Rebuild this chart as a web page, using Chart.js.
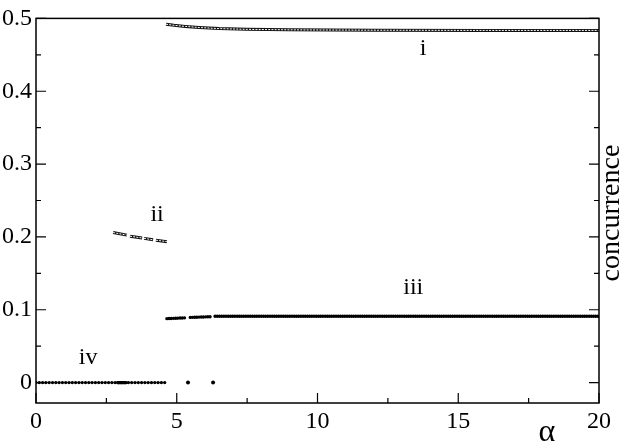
<!DOCTYPE html>
<html>
<head>
<meta charset="utf-8">
<script src="https://cdn.jsdelivr.net/npm/chart.js@4.4.1/dist/chart.umd.min.js"></script>
<style>
  body { margin: 0; background: #fff; }
  #wrap { width: 621px; height: 442px; }
</style>
</head>
<body>
<div id="wrap"><canvas id="chart" width="621" height="442"></canvas></div>
<script>
// branch i (upper, hollow dots)
const branchI_x = [4.62, 4.9, 5.3, 5.8, 6.5, 7.5, 9, 12, 16, 20];
const branchI_y = [0.492, 0.4905, 0.489, 0.4875, 0.486, 0.485, 0.4843, 0.4838, 0.4835, 0.4835];

// branch ii (four short pieces with gaps)
const branchIIa_x = [2.74, 3.23];  const branchIIa_y = [0.206, 0.2025];
const branchIIb_x = [3.34, 3.77];  const branchIIb_y = [0.201, 0.1985];
const branchIIc_x = [3.84, 4.16];  const branchIIc_y = [0.198, 0.196];
const branchIId_x = [4.26, 4.65];  const branchIId_y = [0.1955, 0.1935];

// branch iii
const branchIIIa_x = [4.65, 5.33];  const branchIIIa_y = [0.0878, 0.089];
const branchIIIb_x = [5.48, 6.22];  const branchIIIb_y = [0.0895, 0.0905];
const branchIIIc_x = [6.36, 20];    const branchIIIc_y = [0.091, 0.091];

// branch iv (zero)
const branchIV_x = [0, 4.62];       const branchIV_y = [0, 0];
const branchIVdense_x = [2.9, 3.2]; const branchIVdense_y = [0, 0];
const strayIV_x = [5.4, 6.29];      const strayIV_y = [0, 0];

// axes
const xMajor = [0, 5, 10, 15, 20];
const xMinor = [2.5, 7.5, 12.5, 17.5];
const yMajor = [0, 0.1, 0.2, 0.3, 0.4, 0.5];
const yMinor = [0.05, 0.15, 0.25, 0.35, 0.45];

// branch labels
const labelText = ['i', 'ii', 'iii', 'iv'];
const labelX = [13.75, 4.3, 13.4, 1.85];
const labelY = [0.458, 0.231, 0.130, 0.034];

const SERIF = '"Liberation Serif", "Times New Roman", Times, serif';

function pts(xs, ys) {
  return xs.map((x, i) => ({ x: x, y: ys[i] }));
}

function hollow(xs, ys) {
  return [
    { data: pts(xs, ys), borderColor: '#fff', borderWidth: 1, borderDash: [2, 1.2],
      pointRadius: 0, order: 0 },
    { data: pts(xs, ys), borderColor: '#111', borderWidth: 3, pointRadius: 0, order: 1 }
  ];
}

function dotted(xs, ys, gap) {
  return {
    data: pts(xs, ys), borderColor: '#000', borderWidth: 3.4, pointRadius: 0,
    borderDash: [0, gap], borderCapStyle: 'round', order: 1
  };
}

const datasets = [].concat(
  hollow(branchI_x, branchI_y),
  hollow(branchIIa_x, branchIIa_y),
  hollow(branchIIb_x, branchIIb_y),
  hollow(branchIIc_x, branchIIc_y),
  hollow(branchIId_x, branchIId_y),
  [dotted(branchIIIa_x, branchIIIa_y, 2.2),
   dotted(branchIIIb_x, branchIIIb_y, 2.2),
   dotted(branchIIIc_x, branchIIIc_y, 2.2),
   dotted(branchIV_x, branchIV_y, 3.3),
   dotted(branchIVdense_x, branchIVdense_y, 1.2),
   { data: pts(strayIV_x, strayIV_y), showLine: false, pointRadius: 2, pointBackgroundColor: '#000',
     pointBorderWidth: 0, order: 1 }]
);

const frame = {
  id: 'frame',
  afterDraw(chart) {
    const ctx = chart.ctx;
    const a = chart.chartArea;
    const xs = chart.scales.x, ys = chart.scales.y;
    ctx.save();
    ctx.strokeStyle = '#000';
    ctx.lineWidth = 1.5;
    ctx.strokeRect(a.left, a.top, a.right - a.left, a.bottom - a.top);
    ctx.lineWidth = 1.2;
    ctx.beginPath();
    const tx = (v, len) => {
      const p = xs.getPixelForValue(v);
      ctx.moveTo(p, a.bottom); ctx.lineTo(p, a.bottom - len);
    };
    const ty = (v, len) => {
      const p = ys.getPixelForValue(v);
      ctx.moveTo(a.left, p); ctx.lineTo(a.left + len, p);
      ctx.moveTo(a.right, p); ctx.lineTo(a.right - len, p);
    };
    xMajor.forEach(v => tx(v, 10));
    xMinor.forEach(v => tx(v, 5));
    yMajor.forEach(v => ty(v, 10));
    yMinor.forEach(v => ty(v, 5));
    ctx.stroke();

    ctx.fillStyle = '#000';
    ctx.font = '24px ' + SERIF;
    ctx.textAlign = 'center';
    ctx.textBaseline = 'middle';
    labelText.forEach((t, i) => {
      ctx.fillText(t, xs.getPixelForValue(labelX[i]), ys.getPixelForValue(labelY[i]));
    });

    ctx.font = '32px ' + SERIF;
    ctx.textBaseline = 'alphabetic';
    ctx.fillText('\u03b1', 547, 441);

    ctx.font = '28px ' + SERIF;
    ctx.translate(612, 213);
    ctx.rotate(-Math.PI / 2);
    ctx.textBaseline = 'middle';
    ctx.fillText('concurrence', 0, 0);
    ctx.restore();
  }
};

function draw() {
  new Chart(document.getElementById('chart'), {
    type: 'line',
    data: { datasets: datasets },
    plugins: [frame],
    options: {
      responsive: false,
      animation: false,
      layout: { padding: { top: 10, right: 22, left: 0, bottom: 0 } },
      plugins: { legend: { display: false }, tooltip: { enabled: false } },
      scales: {
        x: {
          type: 'linear', min: 0, max: 20,
          grid: { display: false, drawTicks: false },
          border: { display: false },
          afterBuildTicks: s => { s.ticks = xMajor.map(v => ({ value: v })); },
          afterFit: s => { s.height = 39; },
          ticks: { padding: 4, color: '#000', font: { family: SERIF, size: 24 }, maxRotation: 0 }
        },
        y: {
          type: 'linear', min: -0.028, max: 0.5,
          grid: { display: false, drawTicks: false },
          border: { display: false },
          afterBuildTicks: s => { s.ticks = yMajor.map(v => ({ value: v })); },
          afterFit: s => { s.width = 36; },
          ticks: { padding: 4, color: '#000', font: { family: SERIF, size: 24 },
                   callback: v => String(v) }
        }
      }
    }
  });
}

if (document.fonts && document.fonts.load) {
  document.fonts.load('24px "Liberation Serif"').then(draw, draw);
} else {
  draw();
}
</script>
</body>
</html>
